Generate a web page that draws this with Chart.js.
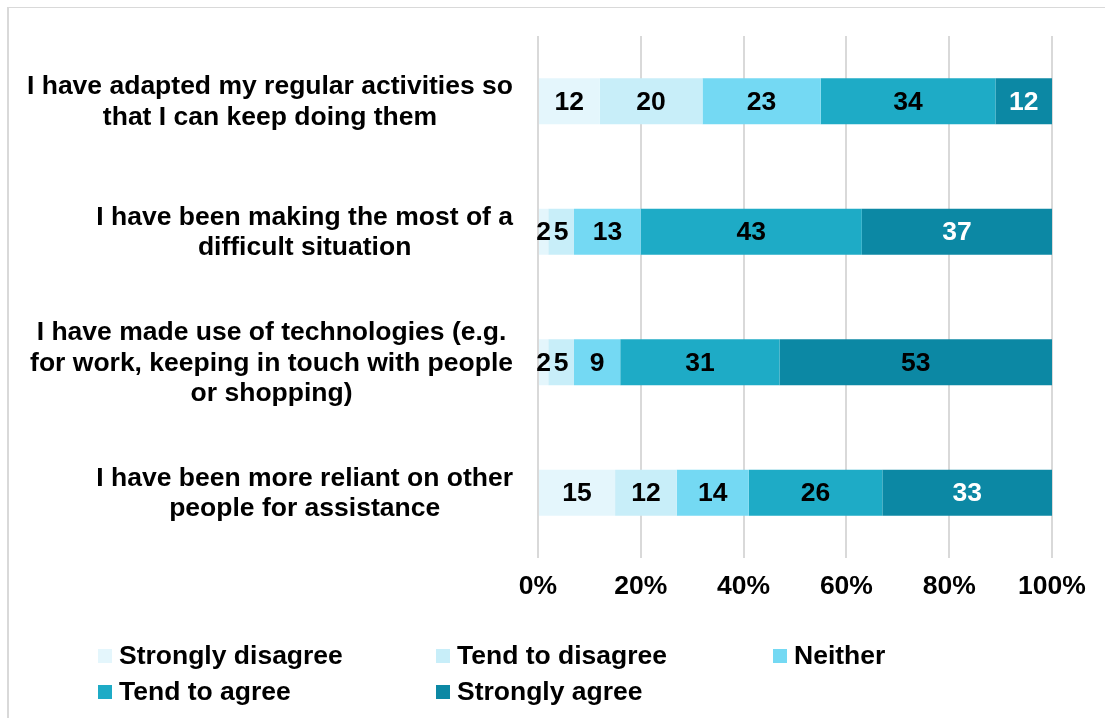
<!DOCTYPE html>
<html>
<head>
<meta charset="utf-8">
<script src="https://cdn.jsdelivr.net/npm/chart.js@4"></script>
<style>
html, body { margin: 0; padding: 0; background: #fff; }
#wrap { width: 1105px; height: 718px; position: relative; }
</style>
</head>
<body>
<div id="wrap"><canvas id="chart"></canvas></div>
<script>
const statements = [
	["I have adapted my regular activities so", "that I can keep doing them"],
	["I have been making the most of a", "difficult situation"],
	["I have made use of technologies (e.g.", "for work, keeping in touch with people", "or shopping)"],
	["I have been more reliant on other", "people for assistance"]
];
const responses = ["Strongly disagree", "Tend to disagree", "Neither", "Tend to agree", "Strongly agree"];
const stronglyDisagree = [12, 2, 2, 15];
const tendToDisagree = [20, 5, 5, 12];
const neither = [23, 13, 9, 14];
const tendToAgree = [34, 43, 31, 26];
const stronglyAgree = [12, 37, 53, 33];
const percentTicks = [0, 20, 40, 60, 80, 100];

const colours = ["#E4F6FC", "#C8EEF9", "#74D9F3", "#1EABC6", "#0C88A4"];
// text colour of the number inside each segment
const valueColours = [
	["#000", "#000", "#000", "#000"],
	["#000", "#000", "#000", "#000"],
	["#000", "#000", "#000", "#000"],
	["#000", "#000", "#000", "#000"],
	["#fff", "#fff", "#000", "#fff"]
];

const FAMILY = "'Liberation Sans', Arial, sans-serif";
const SIZE = 26.5;
const FONT = "bold " + SIZE + "px " + FAMILY;
const seriesValues = [stronglyDisagree, tendToDisagree, neither, tendToAgree, stronglyAgree];

let frame = {
	id: "frame",
	beforeDraw(chart) {
		let ctx = chart.ctx;
		ctx.save();
		ctx.fillStyle = "#fff";
		ctx.fillRect(0, 0, chart.width, chart.height);
		ctx.fillStyle = "#D9D9D9";
		ctx.fillRect(7, 7, 2, chart.height - 7);
		ctx.fillRect(7, 7, chart.width - 7, 1);
		ctx.restore();
	}
};

let statementLabels = {
	id: "statementLabels",
	afterDraw(chart) {
		let ctx = chart.ctx;
		let yScale = chart.scales.y;
		ctx.save();
		ctx.font = FONT;
		ctx.fillStyle = "#000";
		ctx.textAlign = "center";
		ctx.textBaseline = "middle";
		statements.forEach((lines, i) => {
			let cy = yScale.getPixelForTick(i);
			let w = Math.max(...lines.map(l => ctx.measureText(l).width));
			let cx = 513 - w / 2;
			lines.forEach((line, j) => {
				ctx.fillText(line, cx, cy + 1 + (j - (lines.length - 1) / 2) * 30.5);
			});
		});
		ctx.restore();
	}
};

let valueLabels = {
	id: "valueLabels",
	afterDatasetsDraw(chart) {
		let ctx = chart.ctx;
		let area = chart.chartArea;
		ctx.save();
		ctx.font = FONT;
		ctx.textAlign = "center";
		ctx.textBaseline = "middle";
		chart.data.datasets.forEach((ds, d) => {
			chart.getDatasetMeta(d).data.forEach((bar, i) => {
				let right = Math.min(bar.x, area.right);
				ctx.fillStyle = valueColours[d][i];
				ctx.fillText(ds.data[i], (bar.base + right) / 2, bar.y + 1);
			});
		});
		ctx.restore();
	}
};

let gridLegend = {
	id: "gridLegend",
	afterDraw(chart) {
		let ctx = chart.ctx;
		let cols = [98, 436, 773];
		let rows = [656, 692];
		ctx.save();
		ctx.font = FONT;
		ctx.textAlign = "left";
		ctx.textBaseline = "middle";
		responses.forEach((name, i) => {
			let x = cols[i % 3];
			let y = rows[Math.floor(i / 3)];
			ctx.fillStyle = colours[i];
			ctx.fillRect(x, y - 7, 14, 14);
			ctx.fillStyle = "#000";
			ctx.fillText(name, x + 21, y + 1);
		});
		ctx.restore();
	}
};

let chart = new Chart("chart", {
	type: "bar",
	data: {
		labels: statements,
		datasets: responses.map((name, i) => ({
			label: name,
			data: seriesValues[i],
			backgroundColor: colours[i],
			borderWidth: 0,
			barPercentage: 0.352,
			categoryPercentage: 1
		}))
	},
	options: {
		indexAxis: "y",
		responsive: true,
		maintainAspectRatio: false,
		animation: false,
		layout: { padding: { top: 36, right: 53, left: 0, bottom: 0 } },
		plugins: {
			legend: { display: false },
			tooltip: { enabled: false }
		},
		scales: {
			x: {
				stacked: true,
				min: 0,
				max: 100,
				afterBuildTicks: scale => { scale.ticks = percentTicks.map(v => ({ value: v })); },
				afterFit: scale => { scale.height = 160; },
				border: { display: false },
				grid: { color: "#D9D9D9", lineWidth: 2, drawTicks: false },
				ticks: {
					padding: 13,
					color: "#000",
					font: { family: FAMILY, size: SIZE, weight: "bold" },
					callback: v => v + "%"
				}
			},
			y: {
				stacked: true,
				afterFit: scale => { scale.width = 538; },
				border: { display: false },
				grid: { display: false },
				ticks: { display: false }
			}
		}
	},
	plugins: [frame, statementLabels, valueLabels, gridLegend]
});
</script>
</body>
</html>
